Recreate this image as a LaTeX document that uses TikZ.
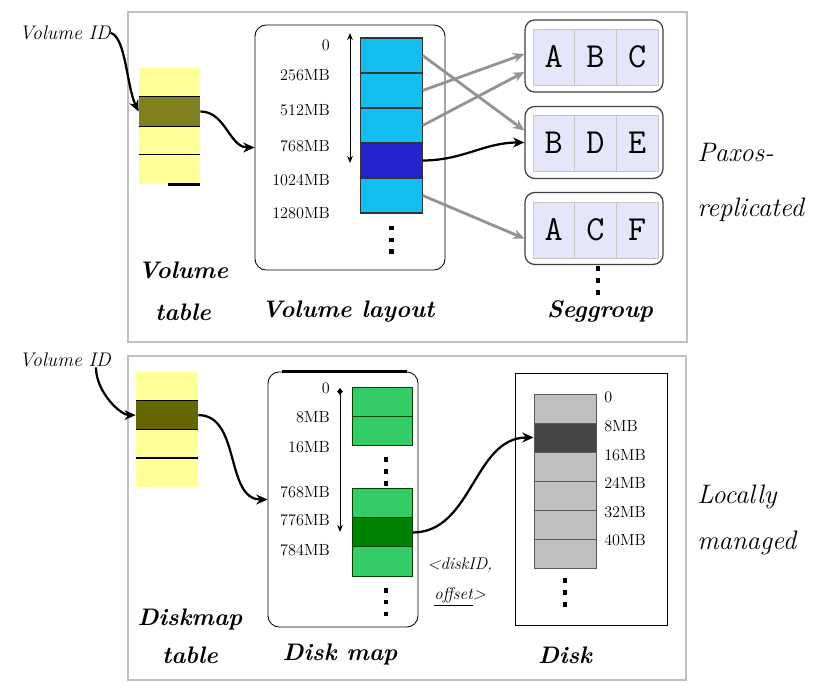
\documentclass[tikz,border=0pt]{standalone}
\usepackage{xcolor}
\usepackage{tikz}
\usetikzlibrary{arrows.meta,positioning,calc}

\definecolor{tabyellow}{RGB}{255,255,153}
\definecolor{tabolive}{RGB}{128,128,32}
\definecolor{tabolivedk}{RGB}{102,102,0}
\definecolor{volblue}{RGB}{20,190,240}
\definecolor{voldark}{RGB}{35,35,205}
\definecolor{mapgreen}{RGB}{51,204,102}
\definecolor{mapdark}{RGB}{0,128,0}
\definecolor{diskgray}{RGB}{192,192,192}
\definecolor{diskdark}{RGB}{68,68,68}
\definecolor{seglav}{RGB}{230,230,250}

\begin{document}
\begin{tikzpicture}[
  x=0.025cm, y=-0.025cm,
  >=Stealth,
  every node/.style={inner sep=0pt},
  panel/.style={draw=gray!50, line width=2pt},
  slot/.style={rectangle, minimum width=1.53cm, minimum height=0.725cm},
  tabslot/.style={slot, fill=tabyellow},
  volslot/.style={slot, fill=volblue, draw=black!80, line width=0.8pt,
    minimum height=0.875cm},
  mapslot/.style={slot, fill=mapgreen, draw=green!25!black, line width=0.7pt,
    minimum width=1.5cm, minimum height=0.73cm},
  diskslot/.style={slot, fill=diskgray, draw=black!65, line width=0.6pt,
    minimum width=1.55cm},
  holder/.style={rectangle, draw, rounded corners=8pt, line width=0.6pt},
  segbox/.style={rectangle, draw=black!75, line width=0.9pt, rounded corners=7pt,
    minimum width=3.45cm, minimum height=1.8cm},
  segcell/.style={rectangle, fill=seglav, draw=gray!45, line width=0.4pt,
    minimum width=1.042cm, minimum height=1.4cm,
    font=\ttfamily\fontsize{25}{25}\selectfont},
  offlabel/.style={font=\fontsize{11.5}{12}\selectfont},
  boxtitle/.style={font=\fontsize{17}{30}\selectfont\bfseries\itshape, align=center},
  sidenote/.style={font=\fontsize{19}{39}\selectfont\itshape, align=left, anchor=west},
  idlabel/.style={font=\fontsize{14}{16}\selectfont\itshape},
  flowarrow/.style={-{Stealth[length=8pt,width=7pt]}, line width=1.6pt},
  remap/.style={-{Stealth[length=8pt,width=7pt]}, line width=2pt, draw=gray!85},
  rangebar/.style={line width=0.7pt},
  sepline/.style={line width=1pt},
  moredots/.style={line width=3.5pt, dash pattern=on 3.5pt off 5pt},
]
\useasboundingbox (0,0) rectangle (825,683);

% Panels
\draw[panel] (128,12) rectangle (687,342);
\draw[panel] (128,356) rectangle (686,680);

% Top: volume table
\node[idlabel] at (65,33) (vid) {Volume ID};
\node[tabslot] at (169.5,82.5) (vt1) {};
\node[tabslot, fill=tabolive] at (169.5,111.5) (vt2) {};
\node[tabslot] at (169.5,140.5) (vt3) {};
\node[tabslot] at (169.5,169.5) (vt4) {};
\draw[sepline] (vt2.north west) -- (vt2.north east);
\draw[sepline] (vt2.south west) -- (vt2.south east);
\draw[sepline] (vt4.north west) -- (vt4.north east);
\draw[line width=1.8pt] ($(vt4.south east)+(-32,0)$) -- (vt4.south east);
\node[boxtitle] at (183,291) (vtTitle) {Volume\\table};

% Top: volume layout
\node[holder, minimum width=4.75cm, minimum height=6.125cm] at (350,147.5) (lay) {};
\node[volslot] at (391.5,55.5) (b1) {};
\node[volslot] at (391.5,90.5) (b2) {};
\node[volslot] at (391.5,125.5) (b3) {};
\node[volslot, fill=voldark] at (391.5,160.5) (b4) {};
\node[volslot] at (391.5,195.5) (b5) {};
\node[offlabel, anchor=east] at (330,45) (lo0) {0};
\node[offlabel, anchor=east] at (330,75) (lo1) {256MB};
\node[offlabel, anchor=east] at (330,110) (lo2) {512MB};
\node[offlabel, anchor=east] at (330,146) (lo3) {768MB};
\node[offlabel, anchor=east] at (330,180) (lo4) {1024MB};
\node[offlabel, anchor=east] at (330,213) (lo5) {1280MB};
\coordinate (loTop) at (350,33);
\coordinate (loBot) at (350,163);
\draw[rangebar, {Stealth[length=5pt,width=4pt]}-{Stealth[length=5pt,width=4pt]}] (loTop) -- (loBot);
\draw[moredots] ($(b5.south)+(0,12)$) -- ++(0,29);
\node[boxtitle] at (348,312) (layTitle) {Volume layout};

% Top: seggroups
\node[segbox] at (594,56) (seg1) {};
\node[segcell] at (553.8,57) (s1a) {A};
\node[segcell] at (595.5,57) (s1b) {B};
\node[segcell] at (637.2,57) (s1c) {C};
\node[segbox] at (594,142.5) (seg2) {};
\node[segcell] at (553.8,143) (s2a) {B};
\node[segcell] at (595.5,143) (s2b) {D};
\node[segcell] at (637.2,143) (s2c) {E};
\node[segbox] at (594,228.5) (seg3) {};
\node[segcell] at (553.8,230) (s3a) {A};
\node[segcell] at (595.5,230) (s3b) {C};
\node[segcell] at (637.2,230) (s3c) {F};
\draw[moredots] ($(seg3.south)+(4,1)$) -- ++(0,29);
\node[boxtitle] at (600,312) (segTitle) {Seggroup};

\node[sidenote] at (697,182.5) (paxos) {Paxos-\\replicated};

% Top: arrows
\draw[flowarrow] (vid.east) .. controls +(15,5) and +(-12,-25) .. (vt2.west);
\draw[flowarrow] (vt2.east) to[out=0,in=180] (lay.west);
\draw[remap] (b1.east) -- ($(seg2.west)+(0,-12)$);
\draw[remap] (b2.east) -- ($(seg1.west)+(0,-2)$);
\draw[remap] (b3.east) -- ($(seg1.west)+(0,16)$);
\draw[remap] (b5.east) -- ($(seg3.west)+(0,10)$);
\draw[flowarrow] (b4.east) to[out=0,in=180] (seg2.west);

% Bottom: diskmap table
\node[idlabel] at (65,360) (vid2) {Volume ID};
\node[tabslot, minimum width=1.55cm, minimum height=0.72cm] at (167,386.4) (dt1) {};
\node[tabslot, fill=tabolivedk, minimum width=1.55cm, minimum height=0.72cm] at (167,415.1) (dt2) {};
\node[tabslot, minimum width=1.55cm, minimum height=0.72cm] at (167,443.9) (dt3) {};
\node[tabslot, minimum width=1.55cm, minimum height=0.72cm] at (167,472.6) (dt4) {};
\draw[sepline] (dt2.north west) -- (dt2.north east);
\draw[sepline] (dt2.south west) -- (dt2.south east);
\draw[sepline] (dt4.north west) -- (dt4.north east);
\node[boxtitle, font=\fontsize{17}{27}\selectfont\bfseries\itshape] at (190,636) (dtTitle) {Diskmap\\table};

% Bottom: disk map
\node[holder, minimum width=3.75cm, minimum height=6.375cm] at (343,499.5) (dm) {};
\draw[line width=2pt] ($(dm.north west)+(14,0)$) -- ($(dm.north east)+(-11,0)$);
\node[mapslot] at (382,401.75) (dg1) {};
\node[mapslot] at (382,431.25) (dg2) {};
\node[mapslot] at (382,503.5) (dg3) {};
\node[mapslot, fill=mapdark] at (382,532.5) (dg4) {};
\node[mapslot] at (382,561.5) (dg5) {};
\node[offlabel, anchor=east] at (330,388) (mo0) {0};
\node[offlabel, anchor=east] at (330,417) (mo1) {8MB};
\node[offlabel, anchor=east] at (330,447) (mo2) {16MB};
\node[offlabel, anchor=east] at (330,492) (mo3) {768MB};
\node[offlabel, anchor=east] at (330,520) (mo4) {776MB};
\node[offlabel, anchor=east] at (330,550) (mo5) {784MB};
\coordinate (moTop) at (340,388);
\coordinate (moBot) at (340,532);
\draw[rangebar, {Diamond[length=5pt,width=4pt]}-{Stealth[length=5pt,width=4pt]}] (moTop) -- (moBot);
\draw[moredots] ($(dg2.south)+(4,11)$) -- ++(0,29);
\draw[moredots] ($(dg5.south)+(4,11)$) -- ++(0,29);
\node[boxtitle] at (340,655) (dmTitle) {Disk map};

\node[font=\fontsize{12}{21}\selectfont\itshape, align=center] at (460,582) (addr)
  {\textless diskID,\\\underline{offset}\textgreater};

% Bottom: disk
\node[rectangle, draw, line width=0.6pt, minimum width=3.8cm, minimum height=6.3cm] at (591,499) (disk) {};
\node[diskslot] at (565,408.5) (dk1) {};
\node[diskslot, fill=diskdark] at (565,437.5) (dk2) {};
\node[diskslot] at (565,466.5) (dk3) {};
\node[diskslot] at (565,495.5) (dk4) {};
\node[diskslot] at (565,524.5) (dk5) {};
\node[diskslot] at (565,553.5) (dk6) {};
\node[offlabel, anchor=west] at (604,397) (do0) {0};
\node[offlabel, anchor=west] at (604,426) (do1) {8MB};
\node[offlabel, anchor=west] at (604,455) (do2) {16MB};
\node[offlabel, anchor=west] at (604,483) (do3) {24MB};
\node[offlabel, anchor=west] at (604,512) (do4) {32MB};
\node[offlabel, anchor=west] at (604,540) (do5) {40MB};
\draw[moredots] ($(dk6.south)+(0,10)$) -- ++(0,29);
\node[boxtitle] at (565,655) (diskTitle) {Disk};

\node[sidenote, font=\fontsize{19}{33}\selectfont\itshape] at (697,520) (local) {Locally\\managed};

% Bottom: arrows
\draw[flowarrow] ([xshift=-0.375cm]vid2.south east) .. controls +(0,25) and +(-15,0) .. (dt2.west);
\draw[flowarrow] (dt2.east) to[out=0,in=180] (dm.west);
\draw[flowarrow] (dg4.east) to[out=0,in=180] (dk2.west);

\end{tikzpicture}
\end{document}
